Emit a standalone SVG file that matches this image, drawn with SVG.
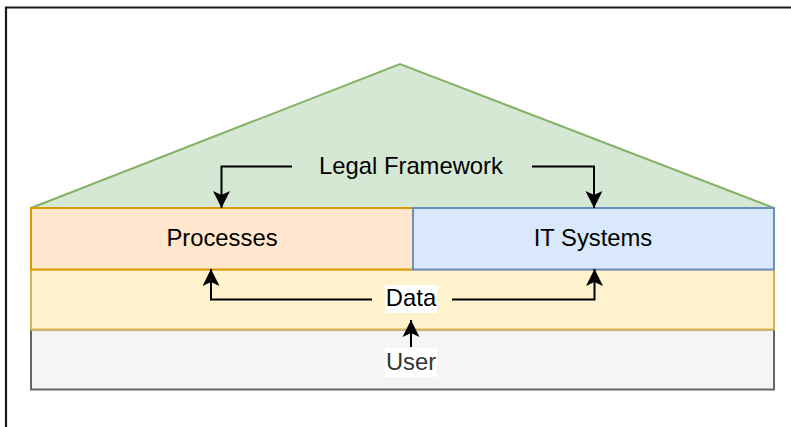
<svg xmlns="http://www.w3.org/2000/svg" width="791" height="427" viewBox="0 0 791 427">
<defs>
<marker id="arr" markerUnits="userSpaceOnUse" markerWidth="20" markerHeight="20" viewBox="-18 -10 20 20" refX="0" refY="0" orient="auto">
<path d="M0,0 L-17,-8.5 L-13,0 L-17,8.5 Z" fill="#000"/>
</marker>
</defs>
<style>
text{font-family:"Liberation Sans",Arial,sans-serif;font-size:23.8px;text-anchor:middle;fill:#000}
.c{fill:none;stroke:#000;stroke-width:2;marker-end:url(#arr)}
</style>
<rect x="0" y="0" width="791" height="427" fill="#fff"/>
<path d="M5,7.5 H791 M6,7 V427" stroke="#1a1a1a" stroke-width="2.2" fill="none"/>
<g id="legal">
<polygon points="31,208 400,64 774,208" fill="#d5e8d4" stroke="#82b366" stroke-width="2"/>
<text x="411" y="173.5">Legal Framework</text>
</g>
<g id="user">
<rect x="31" y="329.5" width="743" height="60" fill="#f5f5f5" stroke="#666666" stroke-width="2"/>
<rect x="385" y="348" width="52" height="29" fill="#fff"/>
<text x="411" y="370" style="fill:#333333">User</text>
</g>
<g id="data">
<rect x="31" y="269.5" width="743" height="60" fill="#fff2cc" stroke="#d6b656" stroke-width="2"/>
<rect x="385" y="285" width="52" height="28" fill="#fff"/>
<text x="411" y="306">Data</text>
</g>
<g id="processes">
<rect x="31" y="208" width="382" height="61.5" fill="#ffe6cc" stroke="#d79b00" stroke-width="2"/>
<text x="222" y="246">Processes</text>
</g>
<g id="it">
<rect x="413" y="208" width="361" height="61.5" fill="#dae8fc" stroke="#6c8ebf" stroke-width="2"/>
<text x="593" y="246">IT Systems</text>
</g>
<g id="connectors">
<path class="c" d="M292,166.5 H221.5 V208"/>
<path class="c" d="M532,166.5 H594 V208"/>
<path class="c" d="M372,299.5 H211 V269"/>
<path class="c" d="M452,299.5 H594.5 V269"/>
<path class="c" d="M411,347 V320"/>
</g>
</svg>
